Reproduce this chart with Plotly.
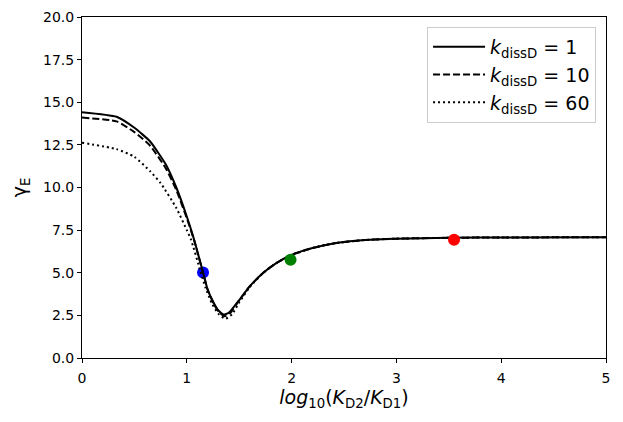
import plotly.graph_objects as go

# curve data
x_solid = [0, 0.33, 0.5, 0.65, 0.8, 0.9, 1.0, 1.07, 1.155, 1.2, 1.26, 1.3, 1.35, 1.4, 1.5, 1.6, 1.73, 1.85, 2.0, 2.2, 2.4, 2.7, 3.0, 3.5, 4.0, 5.0]
y_solid = [14.42, 14.15, 13.5, 12.7, 11.35, 10.0, 8.3, 6.94, 5.02, 4.0, 3.2, 2.8, 2.55, 2.65, 3.4, 4.2, 5.0, 5.55, 6.05, 6.45, 6.72, 6.92, 7.0, 7.05, 7.07, 7.08]

x_dash = [0, 0.33, 0.5, 0.65, 0.8, 0.9, 1.0, 1.07, 1.155, 1.2, 1.26, 1.3, 1.36, 1.41, 1.5, 1.6, 1.73, 1.85, 2.0, 2.2, 2.4, 2.7, 3.0, 3.5, 4.0, 5.0]
y_dash = [14.1, 13.88, 13.25, 12.45, 11.12, 9.85, 8.2, 6.9, 5.0, 3.98, 3.15, 2.75, 2.45, 2.6, 3.38, 4.2, 5.0, 5.55, 6.05, 6.45, 6.72, 6.92, 7.0, 7.05, 7.07, 7.08]

x_dot = [0, 0.33, 0.5, 0.65, 0.75, 0.9, 1.0, 1.04, 1.13, 1.18, 1.24, 1.3, 1.37, 1.43, 1.5, 1.6, 1.73, 1.85, 2.0, 2.2, 2.4, 2.7, 3.0, 3.5, 4.0, 5.0]
y_dot = [12.63, 12.25, 11.8, 10.95, 10.26, 8.8, 7.5, 6.94, 5.1, 4.1, 3.2, 2.6, 2.3, 2.55, 3.25, 4.15, 5.0, 5.55, 6.05, 6.45, 6.72, 6.92, 7.0, 7.05, 7.07, 7.08]

pt_x = [1.155, 1.99, 3.55]
pt_y = [5.02, 5.76, 6.93]
pt_col = ['blue', 'green', 'red']

labels = ['<i>k</i><sub>dissD</sub> = 1', '<i>k</i><sub>dissD</sub> = 10', '<i>k</i><sub>dissD</sub> = 60']

fig = go.Figure()

# blue point sits under the lines in the reference
fig.add_trace(go.Scatter(x=[pt_x[0]], y=[pt_y[0]], mode='markers', showlegend=False,
                         marker=dict(color=pt_col[0], size=12)))

fig.add_trace(go.Scatter(x=x_solid, y=y_solid, mode='lines', name=labels[0],
                         line=dict(color='black', width=2, shape='spline', smoothing=0.5)))
fig.add_trace(go.Scatter(x=x_dash, y=y_dash, mode='lines', name=labels[1],
                         line=dict(color='black', width=2, dash='7px,3px', shape='spline', smoothing=0.5)))
fig.add_trace(go.Scatter(x=x_dot, y=y_dot, mode='lines', name=labels[2],
                         line=dict(color='black', width=2, dash='2px,3px', shape='spline', smoothing=0.5)))

fig.add_trace(go.Scatter(x=pt_x[1:], y=pt_y[1:], mode='markers', showlegend=False,
                         marker=dict(color=pt_col[1:], size=12)))

axis_common = dict(showgrid=False, zeroline=False, showline=True, linecolor='black', linewidth=1,
                   mirror=True, ticks='outside', ticklen=4, tickcolor='black', automargin=False,
                   tickfont=dict(size=14, color='black'))

fig.update_xaxes(range=[0, 5], dtick=1, tick0=0, ticklabelstandoff=3,
                 title=dict(text='<i>log</i><sub>10</sub>(<i>K</i><sub>D2</sub>/<i>K</i><sub>D1</sub>)',
                            font=dict(size=19, color='black'), standoff=4),
                 **axis_common)
fig.update_yaxes(range=[0, 20], dtick=2.5, tick0=0, tickformat='.1f',
                 title=dict(text='γ<sub>E</sub>', font=dict(size=19, color='black'), standoff=15),
                 **axis_common)

# page body adds an 8px offset, so the figure is shrunk by that much
fig.update_layout(
    width=615, height=414,
    margin=dict(l=73.5, r=17, t=9, b=64),
    plot_bgcolor='white', paper_bgcolor='white',
    font=dict(family='DejaVu Sans', color='black'),
    legend=dict(x=0.981, y=0.971, xanchor='right', yanchor='top', itemwidth=52,
                bgcolor='rgba(255,255,255,0.8)', bordercolor='#cccccc', borderwidth=1,
                font=dict(size=19)),
)

fig.write_html("out.html")
